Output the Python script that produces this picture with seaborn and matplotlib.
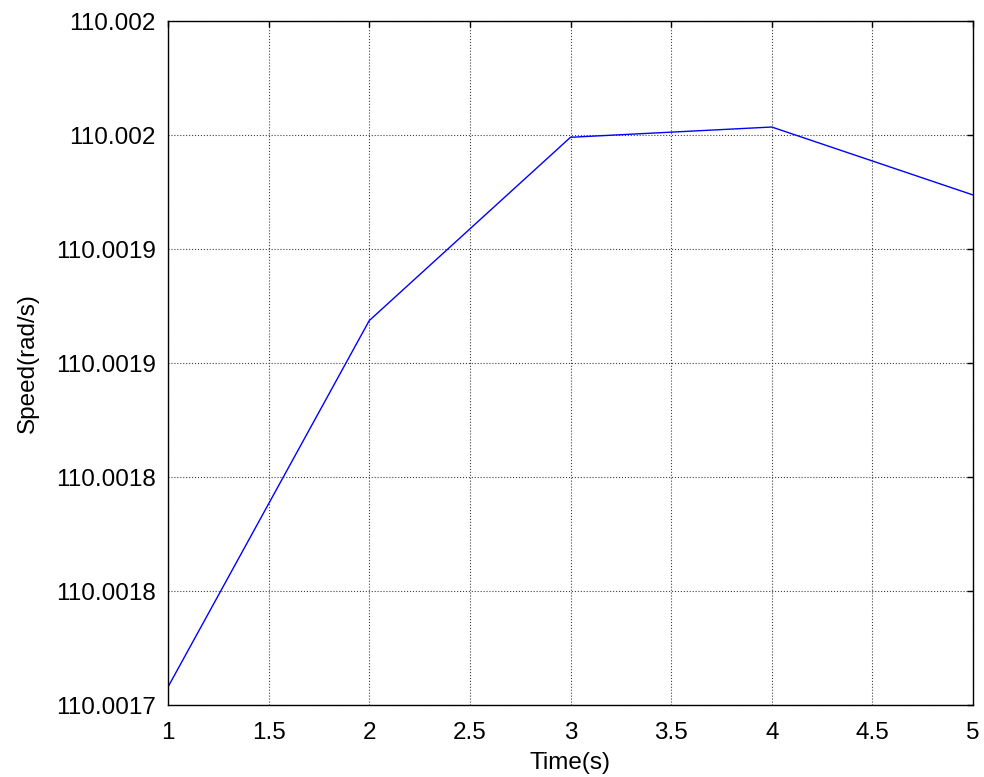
import matplotlib
matplotlib.use("Agg")
import matplotlib.pyplot as plt
import seaborn as sns
import pandas as pd

# Rotor speed samples
time_s = [1, 2, 3, 4, 5]
speed = [110.0017079, 110.0018686, 110.0019490, 110.0019535, 110.0019237]

x_ticks = [1, 1.5, 2, 2.5, 3, 3.5, 4, 4.5, 5]
x_tick_labels = ["1", "1.5", "2", "2.5", "3", "3.5", "4", "4.5", "5"]
y_ticks = [110.0017, 110.00175, 110.0018, 110.00185, 110.0019, 110.00195, 110.002]
y_tick_labels = ["110.0017", "110.0018", "110.0018", "110.0019", "110.0019", "110.002", "110.002"]

sns.set_style("white")
plt.rcParams["font.family"] = ["Liberation Sans", "DejaVu Sans"]
plt.rcParams["text.color"] = "black"
plt.rcParams["axes.labelcolor"] = "black"

df = pd.DataFrame({"Time(s)": time_s, "Speed(rad/s)": speed})

fig = plt.figure(figsize=(9.84, 7.77), dpi=100)
ax = fig.add_axes([168 / 984, 1 - 705 / 777, (973 - 168) / 984, (705 - 21) / 777])

sns.lineplot(data=df, x="Time(s)", y="Speed(rad/s)", ax=ax, color="#0000ff", linewidth=1.0)

ax.set_xlim(1, 5)
ax.set_ylim(110.0017, 110.002)
ax.set_xticks(x_ticks)
ax.set_xticklabels(x_tick_labels)
ax.set_yticks(y_ticks)
ax.set_yticklabels(y_tick_labels)

ax.grid(True, color="#404040", linestyle=":", linewidth=0.8)
ax.tick_params(axis="both", direction="in", length=4, width=1, top=True, right=True,
               labelsize=17.5, colors="black")
ax.tick_params(axis="x", pad=12)
ax.tick_params(axis="y", pad=9)
for s in ax.spines.values():
    s.set_color("black")
    s.set_linewidth(1.0)

ax.set_xlabel("Time(s)", fontsize=17.5, labelpad=6, color="black")
ax.set_ylabel("Speed(rad/s)", fontsize=17.5, labelpad=12, color="black")

fig.savefig("out.png", dpi=100)
